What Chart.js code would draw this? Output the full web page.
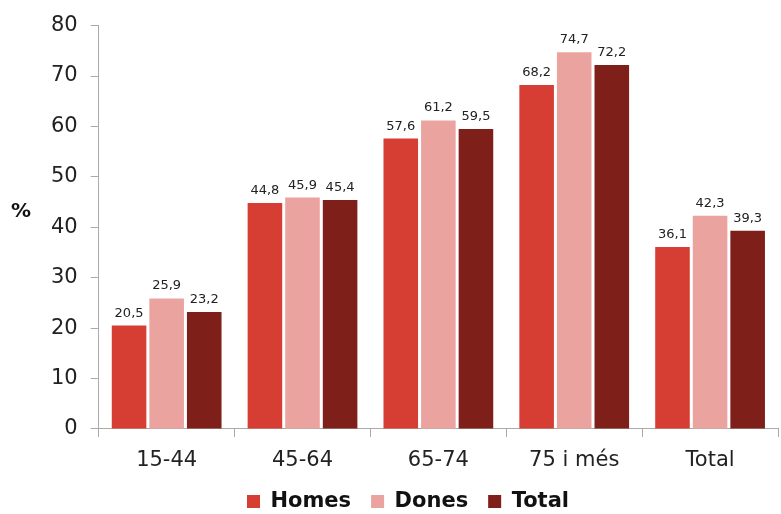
<!DOCTYPE html>
<html>
<head>
<meta charset="utf-8">
<script src="https://cdn.jsdelivr.net/npm/chart.js@4/dist/chart.umd.min.js"></script>
<style>
  html, body { margin: 0; padding: 0; background: #fff; }
  #wrap { width: 781px; height: 514px; }
</style>
</head>
<body>
<div id="wrap"><canvas id="chart"></canvas></div>
<script>
// Data
const categories = ['15-44', '45-64', '65-74', '75 i més', 'Total'];
const homes = [20.5, 44.8, 57.6, 68.2, 36.1];
const dones = [25.9, 45.9, 61.2, 74.7, 42.3];
const total = [23.2, 45.4, 59.5, 72.2, 39.3];
const seriesNames = ['Homes', 'Dones', 'Total'];
const seriesColors = ['#D73E33', '#EBA39F', '#7E1F1A'];

const fontFamily = '"DejaVu Sans", sans-serif';

// Draw value labels above each bar (comma decimals)
const valueLabels = {
    id: 'valueLabels',
    afterDatasetsDraw(chart) {
        const ctx = chart.ctx;
        ctx.save();
        ctx.font = '13px ' + fontFamily;
        ctx.fillStyle = '#222';
        ctx.textAlign = 'center';
        ctx.textBaseline = 'alphabetic';
        chart.data.datasets.forEach(function(ds, i) {
            chart.getDatasetMeta(i).data.forEach(function(bar, j) {
                const txt = ds.data[j].toFixed(1).replace('.', ',');
                ctx.fillText(txt, bar.x, bar.y - 9);
            });
        });
        ctx.restore();
    }
};

// Horizontal "%" axis title
const yTitle = {
    id: 'yTitle',
    afterDraw(chart) {
        const ctx = chart.ctx;
        const area = chart.chartArea;
        ctx.save();
        ctx.font = 'bold 20px ' + fontFamily;
        ctx.fillStyle = '#111';
        ctx.textAlign = 'center';
        ctx.textBaseline = 'middle';
        ctx.fillText('%', 21, (area.top + area.bottom) / 2 - 15);
        ctx.restore();
    }
};

const ctx = document.getElementById('chart').getContext('2d');
new Chart(ctx, {
    type: 'bar',
    data: {
        labels: categories,
        datasets: [homes, dones, total].map(function(values, i) {
            return {
                label: seriesNames[i],
                data: values,
                backgroundColor: seriesColors[i],
                borderWidth: 0,
                categoryPercentage: 0.83,
                barPercentage: 0.92
            };
        })
    },
    options: {
        responsive: true,
        maintainAspectRatio: false,
        animation: false,
        layout: { padding: { left: 38, right: 3, top: -1, bottom: -8 } },
        scales: {
            x: {
                afterFit: function(scale) {
                    // let the labels hang a bit closer to the legend
                    scale.height -= 14;
                },
                grid: {
                    display: true,
                    drawOnChartArea: false,
                    offset: true,
                    tickLength: 8,
                    color: '#aaa'
                },
                border: { color: '#aaa', width: 1 },
                ticks: {
                    color: '#222',
                    font: { family: fontFamily, size: 21, lineHeight: 0.667 },
                    padding: 17
                }
            },
            y: {
                min: 0,
                max: 80,
                grid: {
                    display: true,
                    drawOnChartArea: false,
                    tickLength: 8,
                    color: '#aaa'
                },
                border: { color: '#aaa', width: 1 },
                ticks: {
                    stepSize: 10,
                    color: '#222',
                    font: { family: fontFamily, size: 21 },
                    padding: 13
                }
            }
        },
        plugins: {
            legend: {
                position: 'bottom',
                labels: {
                    boxWidth: 13,
                    boxHeight: 13,
                    color: '#111',
                    font: { family: fontFamily, size: 21, weight: 'bold' },
                    padding: 20
                }
            },
            tooltip: { enabled: false }
        }
    },
    plugins: [valueLabels, yTitle]
});
</script>
</body>
</html>
